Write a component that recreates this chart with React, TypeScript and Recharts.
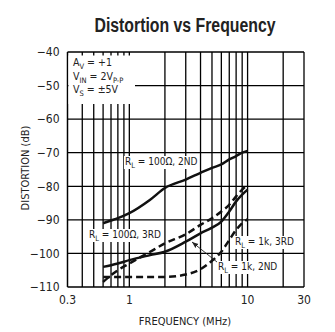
import { ComposedChart, Line, XAxis, YAxis, ReferenceLine } from 'recharts';

document.body.style.margin = '0';

const FONT = "'DejaVu Sans Condensed', 'Liberation Sans', sans-serif";
const TITLE_FONT = "'Liberation Sans', Arial, sans-serif";

// frequency (MHz) points
const FREQ = [0.6, 0.7, 0.8, 1, 1.5, 2, 3, 4, 5, 6, 7, 8, 9, 10];
const RL100_2ND = [-91, -90.2, -89.5, -88, -84, -80.5, -78, -76, -74.5, -73.5, -72, -71, -70, -69.5];
const RL100_3RD = [-108.5, -106.5, -105, -103, -99.5, -97, -94.3, -91.5, -89.5, -87.5, -85.5, -83, -81, -79.5];
const RL1K_2ND = [-104, -103.5, -103, -102, -100.5, -99.5, -96.5, -94, -92.3, -90.5, -87.5, -84.5, -82.5, -81];
const RL1K_3RD = [-107, -107, -107, -107, -107, -107, -106.3, -104.7, -102.2, -99.5, -96, -93, -91, -89.8];

const X_TICKS = [0.3, 1, 10, 30];
const Y_TICKS = [-40, -50, -60, -70, -80, -90, -100, -110];
const X_GRID = [0.4, 0.5, 0.6, 0.7, 0.8, 0.9, 1, 2, 3, 4, 5, 6, 7, 8, 9, 10, 20, 30];
const Y_GRID = [-40, -50, -60, -70, -80, -90, -100];

const data = FREQ.map((f, i) => ({
  f,
  a: RL100_2ND[i],
  b: RL100_3RD[i],
  c: RL1K_2ND[i],
  d: RL1K_3RD[i],
}));

const fmtY = (v: number) => `\u2212${Math.abs(v)}`;

function Sub({ children }: { children: string }) {
  return <tspan fontSize={7.5} dy={2.5}>{children}</tspan>;
}

function Note({ x, y, w, rest }: { x: number; y: number; w: number; rest: string }) {
  return (
    <g>
      <rect x={x - 1} y={y - 9} width={w} height={13} fill="#fff" />
      <text x={x} y={y} fontSize={10} fill="#1a1a1a">
        R<Sub>L</Sub><tspan dy={-2.5}>{rest}</tspan>
      </text>
    </g>
  );
}

export default function App() {
  return (
    <div style={{ position: 'relative', width: 335, height: 332, background: '#fff', fontFamily: FONT }}>
      <ComposedChart width={335} height={332} data={data}
        margin={{ top: 52, right: 31, bottom: 0, left: 0 }}>
        <XAxis dataKey="f" type="number" scale="log" domain={[0.3, 30]} ticks={X_TICKS}
          allowDataOverflow tickLine={false} axisLine={{ stroke: '#000', strokeWidth: 1.5 }}
          height={45} tick={{ fill: '#222', fontSize: 12, fontFamily: FONT }}
          tickFormatter={(v: number) => String(v)} interval={0} />
        <YAxis type="number" domain={[-110, -40]} ticks={Y_TICKS} tickLine={false}
          axisLine={{ stroke: '#000', strokeWidth: 1.5 }} width={67.5} interval={0}
          tick={{ fill: '#222', fontSize: 12, fontFamily: FONT }} tickFormatter={fmtY} />

        {X_GRID.map(v => (
          <ReferenceLine key={'x' + v} x={v} stroke="#000" strokeWidth={1.3} />
        ))}
        {Y_GRID.map(v => (
          <ReferenceLine key={'y' + v} y={v} stroke="#000" strokeWidth={1.3} />
        ))}

        <Line dataKey="a" type="monotone" stroke="#111" strokeWidth={2.5} dot={false} isAnimationActive={false} />
        <Line dataKey="b" type="monotone" stroke="#111" strokeWidth={2.5} strokeDasharray="7 4" dot={false} isAnimationActive={false} />
        <Line dataKey="c" type="monotone" stroke="#111" strokeWidth={2.5} dot={false} isAnimationActive={false} />
        <Line dataKey="d" type="monotone" stroke="#111" strokeWidth={2.5} strokeDasharray="7 4" dot={false} isAnimationActive={false} />
      </ComposedChart>

      <svg width={335} height={332} style={{ position: 'absolute', left: 0, top: 0, pointerEvents: 'none' }}
        fontFamily={FONT}>
        <text x={185} y={32} textAnchor="middle" fontSize={20} fontWeight="bold" fill="#222"
          fontFamily={TITLE_FONT} textLength={181} lengthAdjust="spacingAndGlyphs">
          Distortion vs Frequency
        </text>

        {/* white box behind the test conditions, leaving short ticks on the top border */}
        <rect x={68.5} y={55.5} width={66.5} height={48.5} fill="#fff" />
        <text x={73} y={66} fontSize={10.5} fill="#222">A<Sub>V</Sub><tspan dy={-2.5}> = +1</tspan></text>
        <text x={73} y={80} fontSize={10.5} fill="#222">V<Sub>IN</Sub><tspan dy={-2.5}> = 2V</tspan><Sub>P-P</Sub></text>
        <text x={73} y={93} fontSize={10.5} fill="#222">V<Sub>S</Sub><tspan dy={-2.5}> = ±5V</tspan></text>

        <Note x={125} y={165} w={75} rest=" = 100Ω, 2ND" />
        <Note x={89} y={238} w={76} rest=" = 100Ω, 3RD" />
        <Note x={235} y={245} w={62} rest=" = 1k, 3RD" />
        <Note x={218} y={270} w={62} rest=" = 1k, 2ND" />

        <defs>
          <marker id="arr" viewBox="0 0 10 10" refX={10} refY={5} markerWidth={7} markerHeight={7} orient="auto">
            <path d="M0,1 L10,5 L0,9 Z" fill="#222" />
          </marker>
        </defs>
        <line x1={217} y1={262} x2={192} y2={242} stroke="#222" strokeWidth={0.9} markerEnd="url(#arr)" />

        <text x={185} y={325} textAnchor="middle" fontSize={11} fill="#222">FREQUENCY (MHz)</text>
        <text x={29} y={168} textAnchor="middle" fontSize={11} fill="#222" transform="rotate(-90 29 168)">
          DISTORTION (dB)
        </text>
      </svg>
    </div>
  );
}
